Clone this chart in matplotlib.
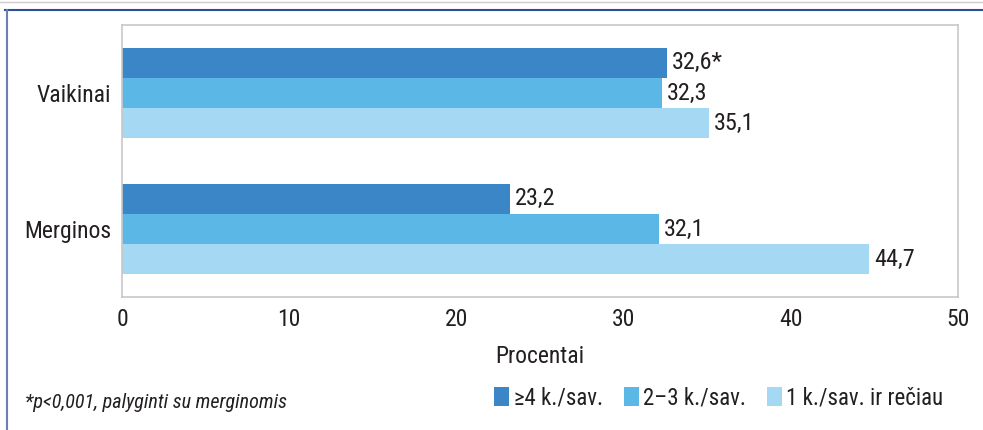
import numpy as np
import matplotlib
matplotlib.use("Agg")
import matplotlib.pyplot as plt
from matplotlib.lines import Line2D

plt.rcParams['font.family'] = ['Roboto Condensed', 'DejaVu Sans']

# grupės ir serijos (procentai)
groups = ["Merginos", "Vaikinai"]
series_names = ["≥4 k./sav.", "2–3 k./sav.", "1 k./sav. ir rečiau"]
often = [23.2, 32.6]
medium = [32.1, 32.3]
rare = [44.7, 35.1]
marks = ["", "*"]
colors = ["#3b86c6", "#5bb7e5", "#a5d9f3"]
txt_col = "#231f20"
fs = 17

fig = plt.figure(figsize=(9.83, 4.30), dpi=100)
ax = fig.add_axes([122 / 983, 1 - 297 / 430, 836 / 983, 272 / 430])

y = np.arange(len(groups))
h = 0.222
for i, (vals, col) in enumerate(zip([often, medium, rare], colors)):
    pos = y + h * (1 - i)
    bars = ax.barh(pos, vals, height=h, color=col, label=series_names[i])
    for j, (b, v) in enumerate(zip(bars, vals)):
        txt = f"{v:.1f}".replace(".", ",")
        if i == 0:
            txt += marks[j]
        ax.text(v + 0.3, pos[j], txt, va="center", ha="left", fontsize=17.5, color=txt_col)

ax.set_xlim(0, 50)
ax.set_ylim(-0.5, 1.5)
ax.set_xticks(range(0, 51, 10))
ax.set_yticks(y)
ax.set_yticklabels(groups)
ax.tick_params(axis="both", length=0, labelsize=fs, colors=txt_col, pad=8)
ax.tick_params(axis="y", pad=8)
for s in ax.spines.values():
    s.set_color("#c8c8c8")
    s.set_linewidth(1.2)
ax.set_xlabel("Procentai", fontsize=fs, color=txt_col, labelpad=10)

fig.legend(loc="center right", bbox_to_anchor=(964 / 983, 1 - 398 / 430), ncol=3,
           frameon=False, fontsize=16.5, handlelength=0.65, handleheight=0.9,
           handletextpad=0.2, columnspacing=0.9, labelcolor=txt_col)

fig.text(25 / 983, 1 - 403 / 430, "*p<0,001, palyginti su merginomis", fontsize=14.5,
         style="italic", color=txt_col, va="center")

# rėmelis
fig.add_artist(Line2D([5 / 983, 1], [1 - 10 / 430] * 2, color="#2e4d9a", lw=1.5))
fig.add_artist(Line2D([7 / 983] * 2, [0, 1 - 10 / 430], color="#6b7fb8", lw=1.5))
fig.add_artist(Line2D([0, 1], [1 - 1.5 / 430] * 2, color="#cccccc", lw=1.0))

fig.savefig("out.png", dpi=100)
